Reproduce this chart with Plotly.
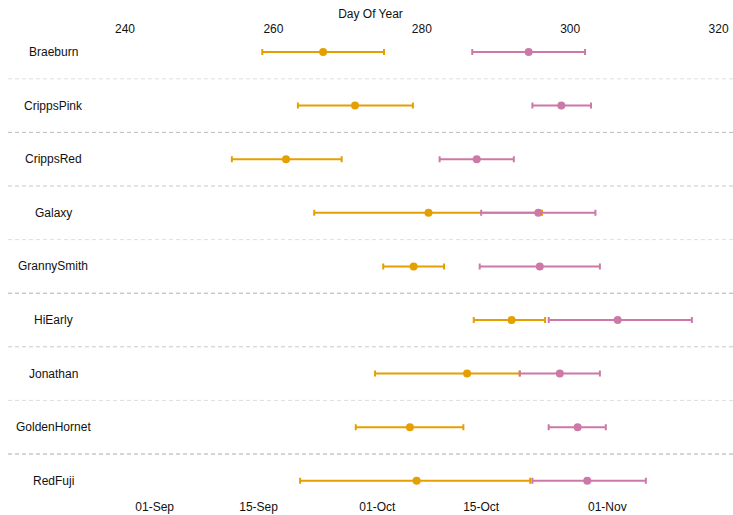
import plotly.graph_objects as go

varieties = ["Braeburn", "CrippsPink", "CrippsRed", "Galaxy", "GrannySmith",
             "HiEarly", "Jonathan", "GoldenHornet", "RedFuji"]

# orange series (earlier stage): lower, mean, upper day of year
orange_low = [258.5, 263.3, 254.4, 265.5, 274.8, 287.0, 273.7, 271.1, 263.6]
orange_mid = [266.7, 271.0, 261.7, 280.9, 278.9, 292.1, 286.1, 278.4, 279.3]
orange_high = [274.9, 278.8, 269.2, 296.2, 283.0, 296.6, 293.2, 285.6, 294.6]

# pink series (later stage): lower, mean, upper day of year
pink_low = [286.8, 294.9, 282.4, 288.0, 287.8, 297.1, 293.2, 297.1, 294.9]
pink_mid = [294.4, 298.8, 287.4, 295.7, 295.9, 306.4, 298.6, 301.0, 302.3]
pink_high = [302.0, 302.8, 292.4, 303.4, 304.0, 316.4, 304.0, 304.8, 310.2]

top_ticks = [240, 260, 280, 300, 320]
date_ticks = [244, 258, 274, 288, 305]
date_labels = ["01-Sep", "15-Sep", "01-Oct", "15-Oct", "01-Nov"]

sep_colors = ["#dddddd", "#bbbbbb", "#c8c8c8", "#e0e0e0", "#b0b0b0",
              "#c8c8c8", "#dddddd", "#aaaaaa"]

ORANGE = "#E69F00"
PINK = "#CC79A7"
FONT = "Liberation Sans, Arial, sans-serif"

rows = list(range(len(varieties)))

fig = go.Figure()


def add_series(low, mid, high, color):
    fig.add_trace(go.Scatter(
        x=mid, y=rows, mode="markers",
        marker=dict(color=color, size=8),
        error_x=dict(type="data", symmetric=False,
                     array=[h - m for h, m in zip(high, mid)],
                     arrayminus=[m - l for m, l in zip(mid, low)],
                     color=color, thickness=2, width=3),
        showlegend=False, hoverinfo="x",
    ))


add_series(orange_low, orange_mid, orange_high, ORANGE)
add_series(pink_low, pink_mid, pink_high, PINK)

# invisible trace to activate bottom date axis
fig.add_trace(go.Scatter(x=[date_ticks[0]], y=[0], xaxis="x2", mode="markers",
                         marker=dict(opacity=0), showlegend=False, hoverinfo="skip"))

for i, c in enumerate(sep_colors):
    fig.add_shape(type="line", xref="paper", x0=0, x1=1, yref="y",
                  y0=i + 0.5, y1=i + 0.5,
                  line=dict(color=c, width=1, dash="4px,3px"))

for i, name in enumerate(varieties):
    fig.add_annotation(x=230.3, y=i, xref="x", yref="y", text=name,
                       showarrow=False, xanchor="center", yanchor="middle",
                       font=dict(size=12, color="#111", family=FONT))

xr = [224.23, 321.94]

fig.update_layout(
    width=733, height=515,
    margin=dict(l=8, r=0, t=40, b=22),
    paper_bgcolor="white", plot_bgcolor="white",
    font=dict(family=FONT, size=12, color="#111"),
    xaxis=dict(side="top", range=xr, tickvals=top_ticks, showgrid=False,
               zeroline=False, showline=False, ticks="", ticklabelstandoff=4,
               title=dict(text="Day Of Year", standoff=0,
                          font=dict(size=12, family=FONT)),
               tickfont=dict(size=12)),
    xaxis2=dict(side="bottom", overlaying="x", range=xr, tickvals=date_ticks,
                ticktext=date_labels, showgrid=False, zeroline=False,
                showline=False, ticks="", ticklabelstandoff=5,
                tickfont=dict(size=12)),
    yaxis=dict(range=[8.2276, -0.2239], showticklabels=False, showgrid=False,
               zeroline=False, showline=False),
)

fig.write_html("out.html", config={"displayModeBar": False},
               post_script="document.body.style.margin='0';document.body.style.overflow='hidden';")
